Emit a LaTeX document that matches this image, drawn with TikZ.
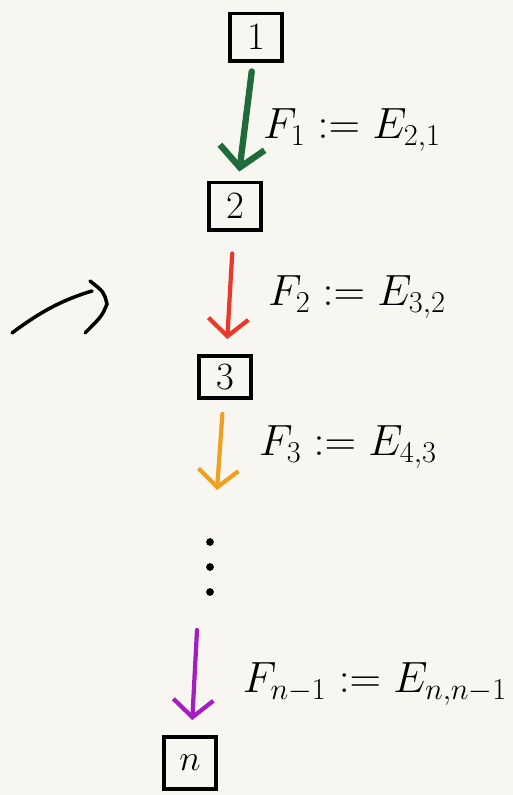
\documentclass[tikz,border=0pt]{standalone}
\usetikzlibrary{arrows.meta, positioning}
\definecolor{papier}{HTML}{F8F6F1}
\definecolor{gruen}{HTML}{1F6B3A}
\definecolor{rot}{HTML}{E8392A}
\definecolor{orange}{HTML}{F0A020}
\definecolor{lila}{HTML}{A21DC4}
\tikzset{
    kasten/.style={draw, line width=2pt, minimum width=1.05cm, minimum height=0.95cm, inner sep=0pt, font=\fontsize{22}{24}\selectfont},
    pfeil/.style={line width=2.4pt, line cap=round, -{Straight Barb[length=3.5mm, width=8mm, line width=2.4pt]}},
    formel/.style={font=\fontsize{27}{30}\selectfont, inner sep=0pt},
    strich/.style={line width=2pt, line cap=round},
}
\begin{document}
\begin{tikzpicture}[x=0.02cm, y=-0.02cm]
\fill[papier] (0,0) rectangle (513,795);
\useasboundingbox (0,0) rectangle (513,795);
% Kaesten
\node[kasten] (k1) at (256,37) {1};
\node[kasten] (k2) at (235,206) {2};
\node[kasten, minimum height=0.85cm] (k3) at (225,377) {3};
\node[kasten, minimum height=1.05cm] (kn) at (190,763) {$n$};
\coordinate (oende) at (217,490);
\coordinate (lanfang) at (197,630);
% Pfeile
\draw[pfeil, gruen, line width=3.6pt, -{Straight Barb[length=4mm, width=9mm, line width=3.6pt]}, shorten <=0.18cm, shorten >=0.18cm] (k1) -- (k2);
\draw[pfeil, rot, shorten <=0.44cm, shorten >=0.3cm] (k2) -- (k3);
\draw[pfeil, orange, shorten <=0.28cm] (k3) -- (oende);
\draw[pfeil, lila, shorten >=0.3cm] (lanfang) -- (kn);
% Beschriftungen
\node[formel] (f1) at (352,130) {$F_1 := E_{2,1}$};
\node[formel] (f2) at (357,297) {$F_2 := E_{3,2}$};
\node[formel] (f3) at (348,447) {$F_3 := E_{4,3}$};
\node[formel] (fn) at (375,684) {$F_{n-1} := E_{n,n-1}$};
% Punkte
\foreach \y in {542,567,592} {
    \fill (210,\y) circle (2.2pt);
}
% Zeichen links
\draw[strich] (12,333) .. controls (40,312) and (62,300) .. (92,291);
\draw[strich] (90,281) .. controls (104,292) .. (107,304) .. controls (102,316) .. (85,333);
\end{tikzpicture}
\end{document}
